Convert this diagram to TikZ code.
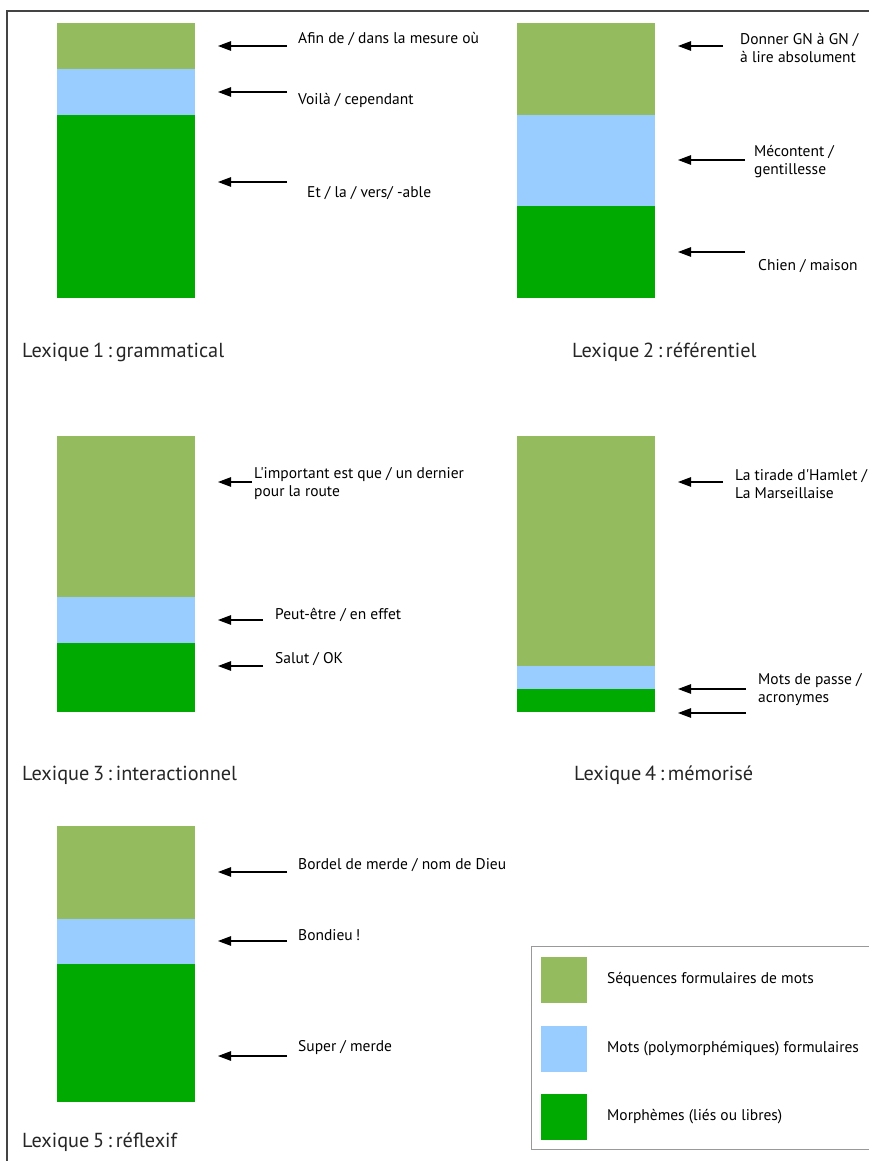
\documentclass[tikz,border=0pt]{standalone}
\usepackage{fontspec}
\setmainfont{PT Sans}[Ligatures=TeXOff]
\usetikzlibrary{arrows.meta}
\definecolor{cseq}{HTML}{94BB5E}
\definecolor{cmot}{HTML}{99CCFF}
\definecolor{cmor}{HTML}{00AA00}
\definecolor{frame}{HTML}{444444}
\definecolor{legline}{HTML}{999999}
\newcommand{\tsp}{\hspace{0.18em}}
\tikzset{
  seg/.style={draw=none, inner sep=0pt, outer sep=0pt, anchor=north west, minimum width=138pt},
  lbl/.style={anchor=west, inner sep=0pt, align=left, font=\fontsize{15.5}{18}\selectfont},
  title/.style={anchor=west, inner sep=0pt, font=\fontsize{20.3}{22}\selectfont, text=black!85},
  ptr/.style={line width=1.1pt, -{Triangle[length=13pt,width=9.5pt]}},
  sw/.style={draw=none, inner sep=0pt, anchor=north west, minimum width=46pt, minimum height=46pt},
}
\begin{document}
\begin{tikzpicture}[x=1pt,y=-1pt]
\useasboundingbox (0,0) rectangle (869,1161);
\fill[white] (0,0) rectangle (869,1161);
% frame
\draw[frame, line width=1.5pt] (7,1161) -- (7,11) -- (869,11);

% ---------- Lexique 1
\node[seg, fill=cseq, minimum height=46pt] (a1) at (57,23) {};
\node[seg, fill=cmot, minimum height=46pt] (a2) at (57,69) {};
\node[seg, fill=cmor, minimum height=183pt] (a3) at (57,115) {};
\node[lbl] (ta1) at (298,39) {Afin de / dans la mesure où};
\node[lbl] (ta2) at (298,100) {Voilà / cependant};
\node[lbl] (ta3) at (307,193) {Et / la / vers/ -able};
\coordinate (sa1) at (287,46); \coordinate (ea1) at (218,46);
\coordinate (sa2) at (287,92); \coordinate (ea2) at (218,92);
\coordinate (sa3) at (287,182); \coordinate (ea3) at (218,182);
\draw[ptr] (sa1) -- (ea1);
\draw[ptr] (sa2) -- (ea2);
\draw[ptr] (sa3) -- (ea3);
\node[title] (l1) at (22,352) {Lexique\tsp 1\tsp:\tsp grammatical};

% ---------- Lexique 2
\node[seg, fill=cseq, minimum height=92pt] (b1) at (517,23) {};
\node[seg, fill=cmot, minimum height=91pt] (b2) at (517,115) {};
\node[seg, fill=cmor, minimum height=92pt] (b3) at (517,206) {};
\node[lbl] (tb1) at (740,48) {Donner GN à GN /\\à lire absolument};
\node[lbl] (tb2) at (754,162) {Mécontent /\\gentillesse};
\node[lbl] (tb3) at (758,266) {Chien / maison};
\coordinate (sb1) at (723,46); \coordinate (eb1) at (678,46);
\coordinate (sb2) at (745,160); \coordinate (eb2) at (678,160);
\coordinate (sb3) at (745,252); \coordinate (eb3) at (678,252);
\draw[ptr] (sb1) -- (eb1);
\draw[ptr] (sb2) -- (eb2);
\draw[ptr] (sb3) -- (eb3);
\node[title] (l2) at (572,352) {Lexique\tsp 2\tsp:\tsp référentiel};

% ---------- Lexique 3
\node[seg, fill=cseq, minimum height=161pt] (c1) at (57,436) {};
\node[seg, fill=cmot, minimum height=46pt] (c2) at (57,597) {};
\node[seg, fill=cmor, minimum height=69pt] (c3) at (57,643) {};
\node[lbl] (tc1) at (254,484) {L'important est que / un dernier\\pour la route};
\node[lbl] (tc2) at (275,615) {Peut-être / en effet};
\node[lbl] (tc3) at (275,659) {Salut / OK};
\coordinate (sc1) at (252,482); \coordinate (ec1) at (218,482);
\coordinate (sc2) at (263,620); \coordinate (ec2) at (218,620);
\coordinate (sc3) at (263,666); \coordinate (ec3) at (218,666);
\draw[ptr] (sc1) -- (ec1);
\draw[ptr] (sc2) -- (ec2);
\draw[ptr] (sc3) -- (ec3);
\node[title] (l3) at (22,775) {Lexique\tsp 3\tsp:\tsp interactionnel};

% ---------- Lexique 4
\node[seg, fill=cseq, minimum height=230pt] (d1) at (517,436) {};
\node[seg, fill=cmot, minimum height=23pt] (d2) at (517,666) {};
\node[seg, fill=cmor, minimum height=23pt] (d3) at (517,689) {};
\node[lbl] (td1) at (735,484) {La tirade d'Hamlet /\\La Marseillaise};
\node[lbl] (td2) at (758,690) {Mots de passe /\\acronymes};
\coordinate (sd1) at (723,482); \coordinate (ed1) at (678,482);
\coordinate (sd2) at (746,689); \coordinate (ed2) at (678,689);
\coordinate (sd3) at (746,713); \coordinate (ed3) at (678,713);
\draw[ptr] (sd1) -- (ed1);
\draw[ptr] (sd2) -- (ed2);
\draw[ptr] (sd3) -- (ed3);
\node[title] (l4) at (574,775) {Lexique\tsp 4\tsp:\tsp mémorisé};

% ---------- Lexique 5
\node[seg, fill=cseq, minimum height=93pt] (e1) at (57,826) {};
\node[seg, fill=cmot, minimum height=45pt] (e2) at (57,919) {};
\node[seg, fill=cmor, minimum height=138pt] (e3) at (57,964) {};
\node[lbl] (te1) at (298,865) {Bordel de merde / nom de Dieu};
\node[lbl] (te2) at (298,935) {Bondieu\tsp !};
\node[lbl] (te3) at (298,1048) {Super / merde};
\coordinate (se1) at (287,872); \coordinate (ee1) at (218,872);
\coordinate (se2) at (287,941); \coordinate (ee2) at (218,941);
\coordinate (se3) at (287,1056); \coordinate (ee3) at (218,1056);
\draw[ptr] (se1) -- (ee1);
\draw[ptr] (se2) -- (ee2);
\draw[ptr] (se3) -- (ee3);
\node[title] (l5) at (22,1142) {Lexique\tsp 5\tsp:\tsp réflexif};

% ---------- Legend
\draw[legline, line width=1pt] (870,946) -- (531,946) -- (531,1149) -- (870,1149);
\node[sw, fill=cseq] (g1) at (541,957) {};
\node[sw, fill=cmot] (g2) at (541,1026) {};
\node[sw, fill=cmor] (g3) at (541,1094) {};
\node[lbl] (tg1) at (607,979) {Séquences formulaires de mots};
\node[lbl] (tg2) at (607,1049) {Mots (polymorphémiques) formulaires};
\node[lbl] (tg3) at (607,1117) {Morphèmes (liés ou libres)};
\end{tikzpicture}
\end{document}
